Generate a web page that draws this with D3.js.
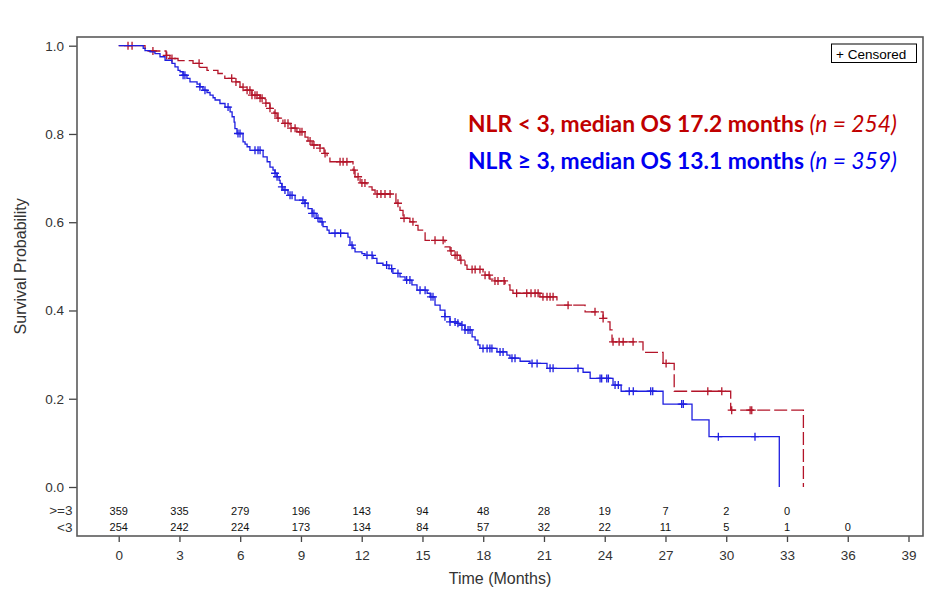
<!DOCTYPE html>
<html>
<head>
<meta charset="utf-8">
<script src="https://cdn.jsdelivr.net/npm/d3@7"></script>
<style>
  body { margin: 0; background: #fff; }
  text { font-family: "Liberation Sans", Arial, sans-serif; }
</style>
</head>
<body>
<svg id="chart" width="936" height="594"></svg>
<script>
// Kaplan-Meier, overall survival by NLR group

// NLR < 3 : step times (months) and survival after each step
const lowTimes = [1.30, 1.40, 2.34, 2.53, 2.93, 3.67, 4.01, 4.36, 4.90, 5.24, 5.75, 5.99, 6.24, 6.58, 6.98,
  7.22, 7.47, 7.67, 7.82, 8.11, 8.46, 8.80, 9.20, 9.35, 9.55, 9.94, 10.14, 10.29, 10.43, 11.57, 11.67,
  11.92, 12.26, 12.51, 12.66, 13.69, 13.89, 14.04, 14.38, 14.63, 14.78, 15.13, 16.11, 16.36, 16.51,
  16.85, 17.10, 17.20, 17.99, 18.33, 18.48, 19.08, 19.32, 19.47, 20.80, 21.64, 23.03, 23.92, 24.11,
  24.26, 24.36, 25.89, 26.88, 27.43, 30.22, 33.81];
const lowSurv = [0.994, 0.988, 0.978, 0.971, 0.966, 0.960, 0.951, 0.944, 0.937, 0.926, 0.918, 0.906, 0.899,
  0.888, 0.881, 0.870, 0.858, 0.847, 0.836, 0.824, 0.813, 0.805, 0.793, 0.784, 0.775, 0.768, 0.756, 0.748,
  0.737, 0.718, 0.703, 0.689, 0.680, 0.673, 0.664, 0.643, 0.627, 0.609, 0.601, 0.593, 0.582, 0.559, 0.544,
  0.535, 0.525, 0.514, 0.503, 0.493, 0.480, 0.471, 0.467, 0.458, 0.446, 0.439, 0.431, 0.412, 0.397, 0.382,
  0.374, 0.356, 0.329, 0.305, 0.280, 0.217, 0.174, 0.0];
const lowCensor = [0.46, 0.66, 1.69, 2.37, 2.63, 3.97, 5.58, 5.79, 6.14, 6.34, 6.48, 6.58, 6.73, 6.83, 6.98,
  7.08, 7.27, 7.47, 7.72, 7.87, 8.21, 8.36, 8.51, 8.71, 8.95, 9.05, 9.45, 9.64, 9.94, 10.19,
  10.93, 11.08, 11.27, 11.62, 11.82, 12.01, 12.16, 12.76, 12.95, 13.15, 13.40, 13.79, 14.09, 14.53,
  15.62, 16.02, 16.41, 16.61, 16.71, 16.90, 17.45, 17.60, 17.84, 18.09, 18.29, 18.58, 18.73, 19.03, 19.65,
  20.15, 20.36, 20.56, 20.71, 20.95, 21.15, 21.30, 21.45, 22.19, 23.52, 23.92, 24.41, 24.71, 24.91, 25.40,
  27.03, 29.09, 29.78, 30.27, 31.18, 31.26];

// NLR >= 3
const highTimes = [1.21, 1.30, 1.55, 1.79, 2.04, 2.29, 2.63, 2.78, 2.93, 3.03, 3.18, 3.37, 3.52, 3.87, 4.01,
  4.16, 4.36, 4.51, 4.66, 4.76, 5.00, 5.25, 5.50, 5.60, 5.70, 5.74, 5.84, 6.14, 6.24, 6.34, 6.48, 7.13,
  7.33, 7.47, 7.62, 7.72, 7.82, 7.92, 7.97, 8.06, 8.11, 8.36, 8.71, 9.20, 9.35, 9.55, 9.75, 9.94, 10.09,
  10.29, 10.39, 11.32, 11.42, 11.57, 11.67, 12.01, 12.16, 12.56, 12.75, 13.05, 13.35, 13.54, 13.89, 14.14,
  14.48, 14.73, 15.23, 15.38, 15.62, 15.87, 16.11, 16.36, 16.71, 16.85, 17.10, 17.45, 17.60, 17.74, 17.84,
  18.68, 19.17, 19.32, 19.82, 20.31, 21.15, 22.93, 23.28, 24.41, 24.81, 26.88, 28.31, 29.15, 32.62];
const highSurv = [0.994, 0.989, 0.986, 0.982, 0.975, 0.967, 0.960, 0.952, 0.944, 0.941, 0.933, 0.926, 0.918,
  0.913, 0.907, 0.899, 0.894, 0.888, 0.882, 0.877, 0.869, 0.861, 0.850, 0.839, 0.827, 0.812, 0.801, 0.782,
  0.777, 0.771, 0.763, 0.748, 0.737, 0.725, 0.718, 0.711, 0.703, 0.695, 0.688, 0.680, 0.673, 0.661, 0.650,
  0.643, 0.631, 0.620, 0.609, 0.601, 0.590, 0.582, 0.575, 0.566, 0.548, 0.541, 0.533, 0.529, 0.525, 0.518,
  0.507, 0.503, 0.495, 0.484, 0.476, 0.469, 0.458, 0.446, 0.439, 0.431, 0.412, 0.401, 0.386, 0.374, 0.371,
  0.367, 0.356, 0.340, 0.333, 0.322, 0.314, 0.306, 0.299, 0.292, 0.285, 0.280, 0.269, 0.260, 0.246, 0.231,
  0.217, 0.188, 0.152, 0.114, 0.0];
const highCensor = [3.18, 3.27, 4.01, 4.26, 5.40, 5.89, 5.99, 6.73, 6.88, 6.98, 7.72, 7.82, 8.06, 8.21, 8.46,
  8.56, 9.10, 9.20, 9.55, 9.64, 9.84, 10.04, 10.68, 10.96, 11.52, 12.26, 12.51, 13.23, 13.48, 13.79, 14.22,
  14.38, 14.88, 15.13, 15.42, 15.52, 16.11, 16.36, 16.61, 16.75, 16.95, 17.10, 17.25, 17.35, 17.99, 18.19,
  18.33, 18.43, 18.83, 18.98, 19.42, 19.57, 20.41, 20.66, 21.30, 21.45, 22.68, 23.77, 23.85, 24.10, 24.18,
  24.51, 24.67, 25.21, 25.41, 26.27, 26.37, 27.80, 27.88, 29.61, 31.42];

// numbers at risk
const riskTimes = [0, 3, 6, 9, 12, 15, 18, 21, 24, 27, 30, 33, 36];
const riskHigh = [359, 335, 279, 196, 143, 94, 48, 28, 19, 7, 2, 0];
const riskLow = [254, 242, 224, 173, 134, 84, 57, 32, 22, 11, 5, 1, 0];

const xTicks = [0, 3, 6, 9, 12, 15, 18, 21, 24, 27, 30, 33, 36, 39];
const yTicks = [0, 0.2, 0.4, 0.6, 0.8, 1.0];

const redLine = '#b31429', blueLine = '#1e1ee0';
const redText = '#c00000', blueText = '#0000f0';

const svg = d3.select('#chart');
const frame = { left: 77, right: 923, top: 37, bottom: 536 };

const x = d3.scaleLinear().domain([0, 39]).range([118.7, 908.5]);
const y = d3.scaleLinear().domain([0, 1]).range([487, 45.7]);

// axes
const yAxis = svg.append('g')
  .attr('transform', `translate(${frame.left},0)`)
  .call(d3.axisLeft(y).tickValues(yTicks).tickFormat(d3.format('.1f')).tickSize(8).tickPadding(5));
const xAxis = svg.append('g')
  .attr('transform', `translate(0,${frame.bottom})`)
  .call(d3.axisBottom(x).tickValues(xTicks).tickSize(6).tickPadding(8));
[xAxis, yAxis].forEach(g => {
  g.select('.domain').remove();
  g.selectAll('line').attr('stroke', '#444').attr('stroke-width', 1.3);
  g.selectAll('text').attr('fill', '#333').style('font-size', '13.5px').style('font-family', '"Liberation Sans", Arial, sans-serif');
});

svg.append('rect')
  .attr('x', frame.left).attr('y', frame.top)
  .attr('width', frame.right - frame.left).attr('height', frame.bottom - frame.top)
  .attr('fill', 'none').attr('stroke', '#5a5a5a').attr('stroke-width', 1.6);

// axis titles
svg.append('text')
  .attr('x', (frame.left + frame.right) / 2).attr('y', 584)
  .attr('text-anchor', 'middle').attr('fill', '#333').style('font-size', '16px')
  .text('Time (Months)');
svg.append('text')
  .attr('transform', `translate(26,${(y(0) + y(1)) / 2}) rotate(-90)`)
  .attr('text-anchor', 'middle').attr('fill', '#333').style('font-size', '16px')
  .text('Survival Probability');

// survival curves
function survAt(times, surv, t) {
  const i = d3.bisectRight(times, t) - 1;
  return i < 0 ? 1 : surv[i];
}
const step = d3.line().x(d => x(d[0])).y(d => y(d[1])).curve(d3.curveStepAfter);

function drawCurve(times, surv, censor, color, dash) {
  const pts = [[0, 1]].concat(times.map((t, i) => [t, surv[i]]));
  svg.append('path')
    .attr('d', step(pts))
    .attr('fill', 'none')
    .attr('stroke', color)
    .attr('stroke-width', 1.3)
    .attr('stroke-dasharray', dash);
  svg.append('g')
    .selectAll('path')
    .data(censor)
    .join('path')
    .attr('d', t => {
      const cx = x(t), cy = y(survAt(times, surv, t));
      return `M${cx - 4},${cy}H${cx + 4}M${cx},${cy - 4}V${cy + 4}`;
    })
    .attr('stroke', color)
    .attr('stroke-width', 1.3)
    .attr('fill', 'none');
}
drawCurve(lowTimes, lowSurv, lowCensor, redLine, '13,4');
drawCurve(highTimes, highSurv, highCensor, blueLine, null);

// numbers at risk
svg.append('g')
  .selectAll('text')
  .data(riskHigh)
  .join('text')
  .attr('x', (d, i) => x(riskTimes[i])).attr('y', 514.5)
  .attr('text-anchor', 'middle').style('font-size', '11px').attr('fill', '#111')
  .text(d => d);
svg.append('g')
  .selectAll('text')
  .data(riskLow)
  .join('text')
  .attr('x', (d, i) => x(riskTimes[i])).attr('y', 531)
  .attr('text-anchor', 'middle').style('font-size', '11px').attr('fill', '#111')
  .text(d => d);
svg.append('text').attr('x', 72.5).attr('y', 515).attr('text-anchor', 'end')
  .style('font-size', '13.5px').attr('fill', '#333').text('>=3');
svg.append('text').attr('x', 72.5).attr('y', 531.5).attr('text-anchor', 'end')
  .style('font-size', '13.5px').attr('fill', '#333').text('<3');

// censored legend
svg.append('rect')
  .attr('x', 831.5).attr('y', 44).attr('width', 85).attr('height', 18.5)
  .attr('fill', '#fff').attr('stroke', '#000').attr('stroke-width', 1);
svg.append('text').attr('x', 836).attr('y', 58.5)
  .style('font-size', '13.5px').attr('fill', '#000').text('+ Censored');

// group annotations
const notes = [
  { main: 'NLR < 3, median OS 17.2 months ', n: '(n = 254)', color: redText, y: 132 },
  { main: 'NLR \u2265 3, median OS 13.1 months ', n: '(n = 359)', color: blueText, y: 168.5 }
];
notes.forEach(d => {
  const t = svg.append('text')
    .attr('x', 468).attr('y', d.y)
    .attr('fill', d.color)
    .style('font-family', 'Lato, "Open Sans", sans-serif')
    .style('font-size', '22px');
  t.append('tspan').style('font-weight', 'bold').text(d.main);
  t.append('tspan').style('font-style', 'italic').text(d.n);
  const w = t.node().getComputedTextLength();
  t.style('font-size', (22 * 429 / w) + 'px');
});
</script>
</body>
</html>
